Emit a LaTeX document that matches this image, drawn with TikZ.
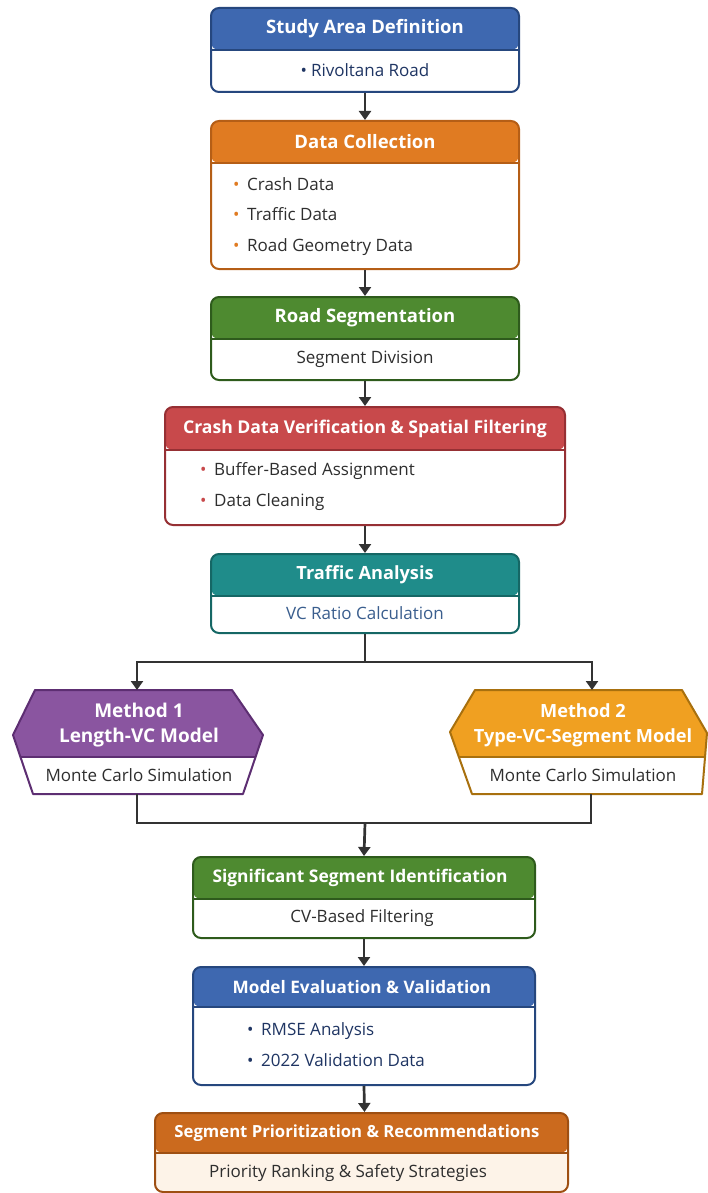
\documentclass[tikz,border=0pt]{standalone}
\usepackage{fontspec}
\setmainfont{Open Sans}
\usetikzlibrary{arrows.meta}
\definecolor{blueH}{HTML}{3E68B0}
\definecolor{blueB}{HTML}{26477E}
\definecolor{orangeH}{HTML}{E07B22}
\definecolor{orangeB}{HTML}{B55E16}
\definecolor{greenH}{HTML}{4E8A30}
\definecolor{greenB}{HTML}{2E5B1C}
\definecolor{redH}{HTML}{C8494B}
\definecolor{redB}{HTML}{963034}
\definecolor{tealH}{HTML}{1F8C8A}
\definecolor{tealB}{HTML}{156765}
\definecolor{purpH}{HTML}{8A55A0}
\definecolor{purpB}{HTML}{5D2E72}
\definecolor{goldH}{HTML}{F0A021}
\definecolor{goldB}{HTML}{A8700E}
\definecolor{rustH}{HTML}{CB6A1E}
\definecolor{rustB}{HTML}{9E4F12}
\definecolor{cream}{HTML}{FDF3E8}
\definecolor{txt}{HTML}{2E2E2E}
\definecolor{navy}{HTML}{1F3563}
\definecolor{vcblue}{HTML}{3A5E8E}
\definecolor{arrc}{HTML}{333333}
\newcommand{\flowbox}[9]{%
 \pgfmathsetmacro{\fbcx}{(#2+#4)/2}%
 \pgfmathsetmacro{\fbcy}{(#3+#5)/2}%
 \pgfmathsetmacro{\fbw}{#4-#2}%
 \pgfmathsetmacro{\fbh}{#5-#3}%
 \node[box, draw=#8, fill=#9, minimum width=\fbw pt, minimum height=\fbh pt,
   path picture={\fill[#7] ([yshift=5pt]path picture bounding box.north west) rectangle ([yshift=-#6pt]path picture bounding box.north east);
   \draw[#8, line width=1.6pt] ([yshift=-#6pt]path picture bounding box.north west) -- ([yshift=-#6pt]path picture bounding box.north east);}] (#1) at (\fbcx,\fbcy) {};}
\newcommand{\bitem}[2]{{\color{#1}\makebox[14pt][l]{•}}#2}
\tikzset{
 box/.style={rectangle, rounded corners=8pt, line width=2pt, inner sep=0pt},
 head/.style={text=white, inner sep=0pt, font=\bfseries\fontsize{#1}{25}\selectfont},
 head/.default=18.5,
 body/.style={text=txt, inner sep=0pt, font=\fontsize{17}{20}\selectfont},
 item/.style={body, anchor=base west},
 arr/.style={line width=2.7pt, draw=arrc, -{Triangle[length=9pt,width=12pt]}},
 conn/.style={line width=2.7pt, draw=arrc},
}
\begin{document}
\begin{tikzpicture}[x=1pt,y=-1pt]
\useasboundingbox (0,0) rectangle (707,1193);
% boxes
\flowbox{sa}{211}{8}{519}{92}{42}{blueH}{blueB}{white}
\flowbox{dc}{211}{121}{519}{269}{42}{orangeH}{orangeB}{white}
\flowbox{rs}{211}{297}{519}{380}{42}{greenH}{greenB}{white}
\flowbox{cv}{165}{407}{565}{525}{43}{redH}{redB}{white}
\flowbox{ta}{211}{554}{519}{633}{42}{tealH}{tealB}{white}
\flowbox{ss}{193}{857}{535}{938}{42}{greenH}{greenB}{white}
\flowbox{me}{193}{967}{535}{1085}{40}{blueH}{blueB}{white}
\flowbox{sp}{155}{1113}{568}{1192}{40}{rustH}{rustB}{cream}
% hexagons
\fill[white] (35,690) -- (232,690) -- (263,735) -- (243,794) -- (33,794) -- (13,735) -- cycle;
\begin{scope}
\clip (35,690) -- (232,690) -- (263,735) -- (243,794) -- (33,794) -- (13,735) -- cycle;
\fill[purpH] (0,680) rectangle (300,757);
\draw[purpB, line width=1.6pt] (0,757) -- (300,757);
\end{scope}
\draw[purpB, line width=2pt, line join=round] (35,690) -- (232,690) -- (263,735) -- (243,794) -- (33,794) -- (13,735) -- cycle;
\fill[white] (475,690) -- (682,690) -- (707,733) -- (702,794) -- (472,794) -- (450,732) -- cycle;
\begin{scope}
\clip (475,690) -- (682,690) -- (707,733) -- (702,794) -- (472,794) -- (450,732) -- cycle;
\fill[goldH] (440,680) rectangle (710,757);
\draw[goldB, line width=1.6pt] (440,757) -- (710,757);
\end{scope}
\draw[goldB, line width=2pt, line join=round] (475,690) -- (682,690) -- (707,733) -- (702,794) -- (472,794) -- (450,732) -- cycle;
\node[inner sep=0pt, minimum width=250pt, minimum height=104pt] (m1) at (138,742) {};
\node[inner sep=0pt, minimum width=257pt, minimum height=104pt] (m2) at (578,742) {};
% texts
\node[head] (sah) at (365,29) {Study Area Definition};
\node[body, text=navy] (sab) at (365,70) {•\hspace{4pt}Rivoltana Road};
\node[head] (dch) at (365,142) {Data Collection};
\node[item] (dc1) at (233,190.5) {\bitem{orangeH}{Crash Data}};
\node[item] (dc2) at (233,220.5) {\bitem{orangeH}{Traffic Data}};
\node[item] (dc3) at (233,251.5) {\bitem{orangeH}{Road Geometry Data}};
\node[head] (rsh) at (365,318) {Road Segmentation};
\node[body] (rsb) at (365,359) {Segment Division};
\node[head=17.6] (cvh) at (365,429) {Crash Data Verification \& Spatial Filtering};
\node[item] (cv1) at (200,475.5) {\bitem{redH}{Buffer-Based Assignment}};
\node[item] (cv2) at (200,506.5) {\bitem{redH}{Data Cleaning}};
\node[head=18.2] (tah) at (365,575) {Traffic Analysis};
\node[body, text=vcblue] (tab) at (365,613) {VC Ratio Calculation};
\node[head=19, align=center] (m1h) at (139,725.5) {Method 1\\Length-VC Model};
\node[body] (m1b) at (139,775) {Monte Carlo Simulation};
\node[head=18.2, align=center] (m2h) at (583,725.5) {Method 2\\Type-VC-Segment Model};
\node[body] (m2b) at (583,775) {Monte Carlo Simulation};
\node[head=17.4] (ssh) at (360,878) {Significant Segment Identification};
\node[body] (ssb) at (362,918) {CV-Based Filtering};
\node[head=17.2] (meh) at (362,987) {Model Evaluation \& Validation};
\node[item, text=navy] (me1) at (247,1035.5) {\bitem{navy}{RMSE Analysis}};
\node[item, text=navy] (me2) at (247,1066.5) {\bitem{navy}{2022 Validation Data}};
\node[head=16.7] (sph) at (357,1133) {Segment Prioritization \& Recommendations};
\node[body] (spb) at (348,1173) {Priority Ranking \& Safety Strategies};
% connectors
\coordinate (split) at (365,662);
\coordinate (merge) at (365,823);
\coordinate (m1in) at (137,690);
\coordinate (m1out) at (137,794);
\coordinate (m2in) at (592,690);
\coordinate (m2out) at (591,794);
\draw[arr] (sa.south) -- (dc.north);
\draw[arr] (dc.south) -- (rs.north);
\draw[arr] (rs.south) -- (cv.north);
\draw[arr] (cv.south) -- (ta.north);
\draw[conn] (ta.south) -- (split);
\draw[arr] (split) -| (m1in);
\draw[arr] (split) -| (m2in);
\draw[conn] (m1out) |- (merge);
\draw[conn] (m2out) |- (merge);
\draw[arr] (merge) -- (ss.north);
\draw[arr] (ss.south) -- (me.north);
\draw[arr] (me.south) -- ([xshift=3pt]sp.north);
\end{tikzpicture}
\end{document}
